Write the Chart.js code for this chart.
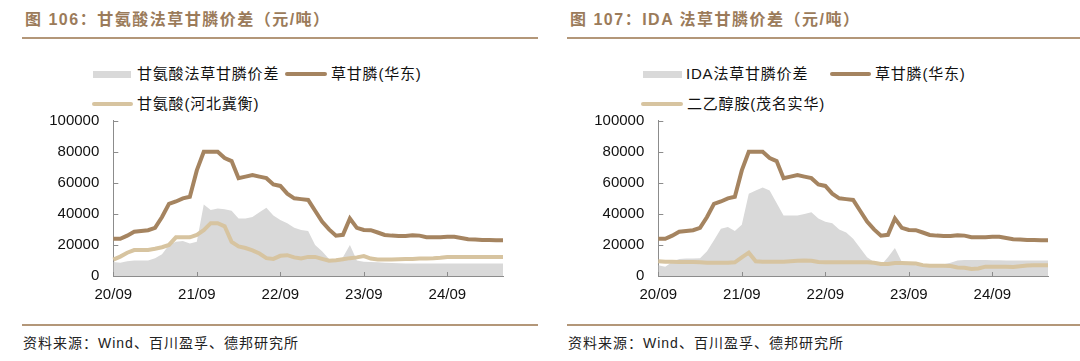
<!DOCTYPE html>
<html>
<head>
<meta charset="utf-8">
<script src="https://cdn.jsdelivr.net/npm/chart.js@4.4.1/dist/chart.umd.min.js"></script>
<style>
  body { margin: 0; background: #fff; width: 1080px; height: 361px; overflow: hidden; }
  .panel { position: absolute; top: 0; width: 540px; height: 361px; font-family: "Liberation Sans", "Noto Sans CJK SC", sans-serif; }
  .titulo { position: absolute; top: 10px; left: 25px; font-size: 16px; line-height: 20px; font-weight: bold; color: #9b7b5a; letter-spacing: 1.5px; white-space: nowrap; }
  .regla { position: absolute; left: 22px; height: 2px; background: #b39779; }
  .ley-txt { position: absolute; font-size: 15px; line-height: 18px; color: #111; letter-spacing: 0.8px; white-space: nowrap; }
  .ley-caja { position: absolute; height: 7px; background: #d9d9d9; }
  .ley-linea { position: absolute; height: 4px; border-radius: 2px; }
  .fuente { position: absolute; left: 23px; top: 334px; font-size: 14px; line-height: 18px; color: #222; letter-spacing: 1px; white-space: nowrap; }
  canvas { position: absolute; left: 30px; top: 110px; }
</style>
</head>
<body>

<div class="panel" style="left:0">
  <div class="titulo">图 106：甘氨酸法草甘膦价差（元/吨）</div>
  <div class="regla" style="top:37px; width:516px"></div>
  <div class="ley-caja" style="left:93px; top:71px; width:38px"></div>
  <div class="ley-txt" style="left:137px; top:65px">甘氨酸法草甘膦价差</div>
  <div class="ley-linea" style="left:285px; top:72px; width:42px; background:#a58460"></div>
  <div class="ley-txt" style="left:331px; top:65px">草甘膦(华东)</div>
  <div class="ley-linea" style="left:92px; top:102px; width:41px; background:#d7c4a0"></div>
  <div class="ley-txt" style="left:137px; top:95px">甘氨酸(河北冀衡)</div>
  <canvas id="graficoGly" width="490" height="200"></canvas>
  <div class="regla" style="top:324px; width:516px"></div>
  <div class="fuente">资料来源：Wind、百川盈孚、德邦研究所</div>
</div>

<div class="panel" style="left:545px; width:535px">
  <div class="titulo">图 107：IDA 法草甘膦价差（元/吨）</div>
  <div class="regla" style="top:37px; width:513px"></div>
  <div class="ley-caja" style="left:98px; top:71px; width:39px"></div>
  <div class="ley-txt" style="left:141px; top:65px">IDA法草甘膦价差</div>
  <div class="ley-linea" style="left:285px; top:72px; width:41px; background:#a58460"></div>
  <div class="ley-txt" style="left:330px; top:65px">草甘膦(华东)</div>
  <div class="ley-linea" style="left:96px; top:102px; width:42px; background:#d7c4a0"></div>
  <div class="ley-txt" style="left:142px; top:95px">二乙醇胺(茂名实华)</div>
  <canvas id="graficoIda" width="490" height="200"></canvas>
  <div class="regla" style="top:324px; width:513px"></div>
  <div class="fuente">资料来源：Wind、百川盈孚、德邦研究所</div>
</div>

<script>
// Meses (aa/mm), de 20/09 a 25/05
const meses = [
  '20/09','20/10','20/11','20/12',
  '21/01','21/02','21/03','21/04','21/05','21/06','21/07','21/08','21/09','21/10','21/11','21/12',
  '22/01','22/02','22/03','22/04','22/05','22/06','22/07','22/08','22/09','22/10','22/11','22/12',
  '23/01','23/02','23/03','23/04','23/05','23/06','23/07','23/08','23/09','23/10','23/11','23/12',
  '24/01','24/02','24/03','24/04','24/05','24/06','24/07','24/08','24/09','24/10','24/11','24/12',
  '25/01','25/02','25/03','25/04','25/05'
];
const etiquetasX = ['20/09', '21/09', '22/09', '23/09', '24/09'];
const ticksY = [0, 20000, 40000, 60000, 80000, 100000];

// 草甘膦(华东)
const glifosato = [
  24000, 24000, 26000, 28500,
  29000, 29500, 31000, 38000, 46500, 48000, 50000, 51000, 68000, 80000, 80000, 80000,
  76000, 74000, 63000, 64000, 65000, 64000, 63000, 59000, 58000, 53000, 50000, 49500,
  49000, 42000, 35000, 30000, 26000, 26500, 37000, 31000, 29600, 29500, 28000, 26400,
  26000, 25800, 25800, 26200, 26000, 25000, 25000, 25000, 25200, 25200, 24500, 23700,
  23500, 23200, 23200, 23000, 23000
];

// 甘氨酸(河北冀衡)
const glicina = [
  10600, 12500, 15000, 16700,
  16700, 16700, 17500, 18500, 20000, 24900, 24900, 24900, 26500, 29500, 34000, 34000,
  32000, 22000, 19000, 18000, 16500, 14500, 11500, 11000, 13000, 13400, 12000, 11300,
  12300, 12300, 11000, 9800, 10200, 10800, 11500, 12000, 12800, 11200, 10600, 10600,
  10600, 10800, 11000, 11000, 11200, 11300, 11500, 11800, 12200, 12300, 12300, 12300,
  12300, 12300, 12300, 12300, 12300
];

// 甘氨酸法草甘膦价差
const difGlicina = [
  9000, 8500, 9500, 10000,
  10000, 10000, 11500, 14000, 20000, 22000, 22500, 21000, 22000, 46000, 42500, 43500,
  43000, 42000, 37000, 37000, 38000, 41000, 44000, 39000, 36000, 34000, 31000, 29600,
  29000, 20000, 16000, 11000, 9000, 12000, 20000, 10000, 9200, 9000, 8800, 8500,
  8400, 8200, 8100, 8000, 8000, 8000, 8000, 8000, 8000, 8000, 8000, 8000,
  8000, 8000, 8000, 8000, 8000
];

// 二乙醇胺(茂名实华)
const dea = [
  9500, 9200, 9200, 9000,
  9000, 9000, 8800, 8500, 8500, 8500, 8500, 8800, 12000, 15000, 9500, 9200,
  9200, 9200, 9200, 9500, 9800, 10000, 9800, 9000, 8800, 8800, 8800, 8800,
  8800, 8800, 8800, 8500, 7800, 7800, 8300, 8300, 8200, 8000, 7000, 6600,
  6600, 6600, 6400, 5500, 5300, 4500, 4800, 6000, 6000, 6000, 6000, 5800,
  6300, 6800, 7000, 7000, 7000
];

// IDA法草甘膦价差
const difIda = [
  7000, 6000, 9000, 11000,
  11300, 11300, 11500, 16000, 23000, 30500, 31600, 29000, 33000, 53000, 55000, 57000,
  55000, 47000, 39000, 39000, 39000, 40000, 41000, 37000, 35000, 34000, 30000, 28000,
  24000, 18000, 12000, 9000, 7000, 12000, 18000, 9000, 7500, 7000, 7000, 7000,
  7500, 7500, 8500, 10000, 10300, 10300, 10300, 10300, 10200, 10200, 10000, 10000,
  10000, 10000, 10000, 10000, 10000
];

const colorGlifosato = '#a58460';
const colorMateria = '#d7c4a0';
const colorDif = '#d9d9d9';
const colorEje = '#8c8c8c';

// marcas de los ejes hacia dentro
const marcasInternas = {
  id: 'marcasInternas',
  afterDraw(chart) {
    const { ctx, scales } = chart;
    const x = scales.x, y = scales.y;
    ctx.save();
    ctx.strokeStyle = colorEje;
    ctx.lineWidth = 1;
    ctx.beginPath();
    ticksY.forEach(v => {
      const py = Math.round(y.getPixelForValue(v)) + 0.5;
      ctx.moveTo(x.left, py);
      ctx.lineTo(x.left + 5, py);
    });
    etiquetasX.forEach(l => {
      const px = Math.round(x.getPixelForValue(meses.indexOf(l))) + 0.5;
      ctx.moveTo(px, y.bottom);
      ctx.lineTo(px, y.bottom - 4);
    });
    ctx.stroke();
    ctx.restore();
  }
};

function renderGrafico(id, diferencia, materia) {
  const ctx = document.getElementById(id).getContext('2d');
  new Chart(ctx, {
    type: 'line',
    data: {
      labels: meses,
      datasets: [
        { data: glifosato, borderColor: colorGlifosato, borderWidth: 4, pointRadius: 0, fill: false, order: 1 },
        { data: materia, borderColor: colorMateria, borderWidth: 4, pointRadius: 0, fill: false, order: 2 },
        { data: diferencia, borderWidth: 0, borderColor: colorDif, backgroundColor: colorDif, pointRadius: 0, fill: 'origin', order: 3 }
      ]
    },
    options: {
      responsive: false,
      animation: false,
      devicePixelRatio: 1,
      layout: { padding: { top: 10.7, right: 17, left: 0, bottom: 0 } },
      plugins: { legend: { display: false }, tooltip: { enabled: false } },
      scales: {
        x: {
          z: 1,
          offset: false,
          grid: { display: false, drawTicks: false },
          border: { display: true, color: colorEje, width: 1 },
          ticks: {
            autoSkip: false, maxRotation: 0, padding: 10,
            color: '#111', font: { family: 'Liberation Sans', size: 15 },
            callback: (v, i) => etiquetasX.includes(meses[i]) ? meses[i] : ''
          },
          afterFit: s => { s.height = 34; }
        },
        y: {
          z: 1,
          min: 0, max: 100000,
          grid: { display: false, drawTicks: true, tickLength: 14 },
          border: { display: true, color: colorEje, width: 1 },
          ticks: {
            stepSize: 20000, padding: 0,
            color: '#111', font: { family: 'Liberation Sans', size: 15 },
            callback: v => String(v)
          },
          afterFit: s => { s.width = 83.3; }
        }
      }
    },
    plugins: [marcasInternas]
  });
}

document.addEventListener('DOMContentLoaded', () => {
  renderGrafico('graficoGly', difGlicina, glicina);
  renderGrafico('graficoIda', difIda, dea);
});
</script>
</body>
</html>
